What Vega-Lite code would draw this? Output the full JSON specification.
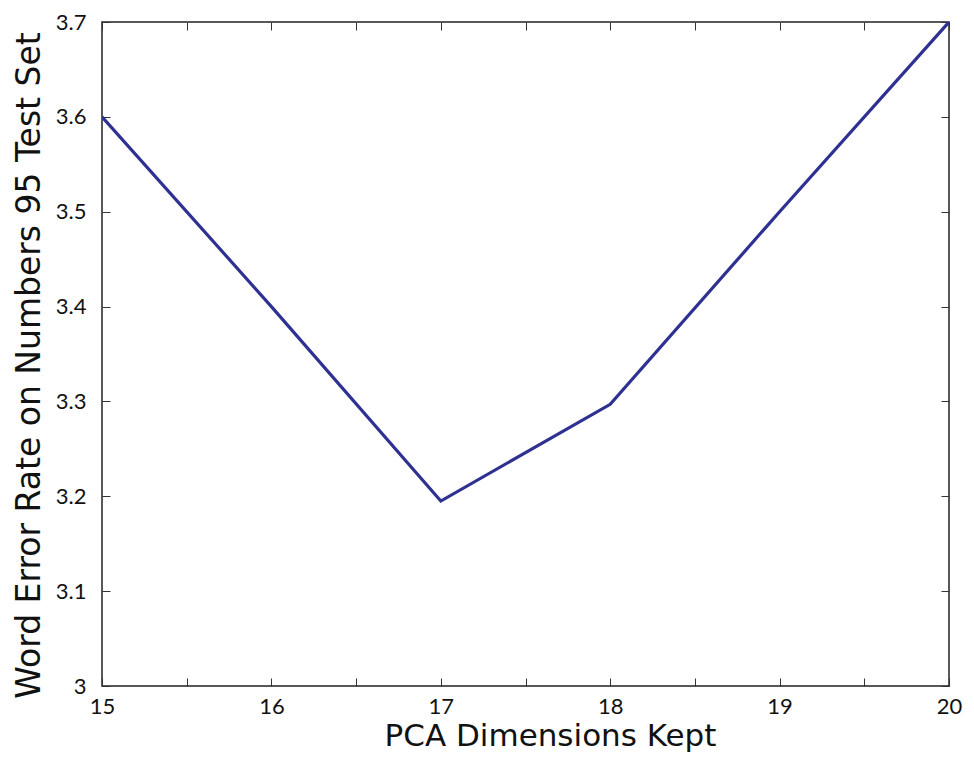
{
  "$schema": "https://vega.github.io/schema/vega-lite/v6.json",
  "width": 847,
  "height": 664,
  "autosize": {"type": "none"},
  "padding": {"left": 102, "top": 22, "right": 25, "bottom": 72},
  "background": "white",
  "config": {
    "view": {"stroke": "#222", "strokeWidth": 1.5},
    "axis": {"grid": false, "domain": false, "labelFlush": false, "tickColor": "#333", "tickWidth": 1, "labelColor": "#111", "titleColor": "#111", "labelFont": "Lato", "labelFontSize": 22, "titleFont": "DejaVu Sans", "titleFontSize": 31, "titleFontWeight": "normal"}
  },
  "data": {"values": [
    {"dims": 15, "wer": 3.6},
    {"dims": 16, "wer": 3.4},
    {"dims": 17, "wer": 3.195},
    {"dims": 18, "wer": 3.297},
    {"dims": 19, "wer": 3.5},
    {"dims": 20, "wer": 3.7}
  ]},
  "layer": [
    {
      "mark": {"type": "line", "color": "#2e3192", "strokeWidth": 3.2, "clip": true},
      "encoding": {
        "x": {"field": "dims", "type": "quantitative", "scale": {"domain": [15, 20], "nice": false, "zero": false},
          "axis": {"orient": "bottom", "values": [15, 15.5, 16, 16.5, 17, 17.5, 18, 18.5, 19, 19.5, 20], "format": "~g", "labelExpr": "datum.value % 1 == 0 ? datum.label : ''", "tickSize": -8, "labelPadding": 18, "title": "PCA Dimensions Kept", "titlePadding": 4, "titleX": 448}},
        "y": {"field": "wer", "type": "quantitative", "scale": {"domain": [3, 3.7], "nice": false, "zero": false},
          "axis": {"orient": "left", "values": [3, 3.1, 3.2, 3.3, 3.4, 3.5, 3.6, 3.7], "format": "~g", "tickSize": -8, "labelPadding": 24, "title": "Word Error Rate on Numbers 95 Test Set", "titlePadding": 9, "titleFontSize": 33, "titleY": 343}}
      }
    },
    {
      "mark": {"type": "point", "opacity": 0},
      "encoding": {
        "x": {"field": "dims", "type": "quantitative", "scale": {"domain": [15, 20], "nice": false, "zero": false},
          "axis": {"orient": "top", "values": [15, 15.5, 16, 16.5, 17, 17.5, 18, 18.5, 19, 19.5, 20], "labels": false, "tickSize": -8, "title": null}},
        "y": {"field": "wer", "type": "quantitative", "scale": {"domain": [3, 3.7], "nice": false, "zero": false},
          "axis": {"orient": "right", "values": [3, 3.1, 3.2, 3.3, 3.4, 3.5, 3.6, 3.7], "labels": false, "tickSize": -8, "title": null}}
      }
    }
  ],
  "resolve": {"axis": {"x": "independent", "y": "independent"}}
}
